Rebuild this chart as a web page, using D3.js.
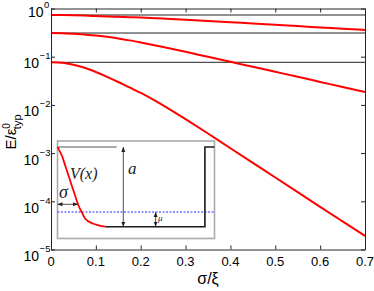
<!DOCTYPE html>
<html><head><meta charset="utf-8">
<script src="https://cdn.jsdelivr.net/npm/d3@7"></script>
<style>body{margin:0;background:#fff} svg{display:block}</style>
</head><body>
<svg id="c" width="374" height="291"></svg>
<script>
// ---- data ----
const sigma  = [0,0.025,0.05,0.075,0.1,0.125,0.15,0.175,0.2,0.25,0.3,0.35,0.4,0.45,0.5,0.55,0.6,0.65,0.7];
const level1 = [0.733,0.730,0.723,0.712,0.699,0.686,0.673,0.660,0.648,0.617,0.586,0.553,0.520,0.488,0.459,0.431,0.405,0.381,0.358];
const level2 = [0.310,0.307,0.2986,0.288,0.2754,0.258,0.2386,0.218,0.1971,0.1589,0.1264,0.0995,0.0784,0.0617,0.0486,0.0383,0.0300,0.0235,0.0185];
const level3 = [0.0765,0.0747,0.0679,0.0589,0.0482,0.0383,0.0299,0.0230,0.0178,0.00982,0.00505,0.00255,0.00126,6.26e-4,3.12e-4,1.55e-4,7.69e-5,3.83e-5,1.91e-5];
const refLevels = [0.733,0.310,0.0765];
const xTicks = [0,0.1,0.2,0.3,0.4,0.5,0.6,0.7];
const xTickLabels = ["0","0.1","0.2","0.3","0.4","0.5","0.6","0.7"];
const yTicks = [1,1e-1,1e-2,1e-3,1e-4,1e-5];
const yTickExp = ["0","\u22121","\u22122","\u22123","\u22124","\u22125"];
// inset (schematic potential)
const insetX = [0,0.008,0.029,0.05,0.071,0.092,0.113,0.135,0.156,0.177,0.22,0.262,0.304];
const insetV = [1,0.971,0.887,0.762,0.636,0.511,0.385,0.26,0.176,0.1,0.043,0.018,0];
const wellX = [0.304,0.939,0.939,1];
const wellV = [0,0,1,1];
const muLevel = 0.184;
const topLineEnd = 0.377;
const aArrowX = 0.419, muArrowX = 0.625, sigmaArrowV = 0.281, sigmaArrowEnd = 0.131;

// ---- layout ----
const svg = d3.select("#c");
const L = 51, R = 365, T = 8.5, B = 249.5;
const x = d3.scaleLinear().domain([0,0.7]).range([L,R]);
const y = d3.scaleLog().domain([1e-5,1]).range([B,T]);
const font = "'Liberation Sans', Arial, Helvetica, sans-serif";
const axisCol = "#262626";

// reference horizontal lines
svg.append("g").selectAll("line").data(refLevels).join("line")
  .attr("x1",x(0)).attr("x2",x(0.7)).attr("y1",d=>y(d)).attr("y2",d=>y(d))
  .attr("stroke","#222").attr("stroke-width",1);

// curves
const line = d3.line().x(d=>x(d[0])).y(d=>y(d[1])).curve(d3.curveMonotoneX);
[level1,level2,level3].forEach(arr=>{
  svg.append("path").attr("d", line(sigma.map((s,i)=>[s,arr[i]])))
    .attr("fill","none").attr("stroke","#ff0000").attr("stroke-width",2);
});

// axes with inward ticks
function styleAxis(g){ g.selectAll("path,line").attr("stroke",axisCol); g.selectAll("text").remove(); }
svg.append("g").attr("transform",`translate(0,${B})`).call(d3.axisBottom(x).tickValues(xTicks).tickSize(-4).tickSizeOuter(0)).call(styleAxis);
svg.append("g").attr("transform",`translate(0,${T})`).call(d3.axisTop(x).tickValues(xTicks).tickSize(-4).tickSizeOuter(0)).call(styleAxis);
svg.append("g").attr("transform",`translate(${L},0)`).call(d3.axisLeft(y).tickValues(yTicks).tickSize(-4).tickSizeOuter(0)).call(styleAxis);
svg.append("g").attr("transform",`translate(${R},0)`).call(d3.axisRight(y).tickValues(yTicks).tickSize(-4).tickSizeOuter(0)).call(styleAxis);

// x tick labels
svg.append("g").selectAll("text").data(xTicks).join("text")
  .attr("x",d=>x(d)).attr("y",266).attr("text-anchor","middle")
  .style("font",`13px ${font}`).attr("fill","#000").text((d,i)=>xTickLabels[i]);

// y tick labels with superscripts (single text each)
const yl = svg.append("g");
yTicks.forEach((v,i)=>{
  const off = i===0 ? 8.5 : 11.5;
  const t = yl.append("text").attr("x", i===0 ? 28 : 23.5).attr("y",y(v)+off)
    .style("font",`14px ${font}`);
  t.append("tspan").text("10");
  t.append("tspan").attr("dx",0.5).attr("dy",-9).style("font-size","9.5px").text(yTickExp[i]);
});

// axis titles
svg.append("text").attr("x",(L+R)/2).attr("y",284).attr("text-anchor","middle")
  .style("font",`16px ${font}`).text("σ/ξ");
const yt = svg.append("text").attr("transform","translate(16,132) rotate(-90)")
  .attr("text-anchor","middle").style("font",`15px ${font}`);
yt.append("tspan").text("E/ε");
yt.append("tspan").attr("dy",-6).style("font-size","10px").text("0");
yt.append("tspan").attr("dx",-6).attr("dy",11).style("font-size","11px").text("typ");

// ---- inset ----
const ix = d3.scaleLinear().domain([0,1]).range([57.5,214.5]);
const iv = d3.scaleLinear().domain([0,1]).range([226.7,147]);
const ins = svg.append("g");
ins.append("rect").attr("x",57.5).attr("y",141).attr("width",157).attr("height",97.5)
  .attr("fill","#fff").attr("stroke","#aaa").attr("stroke-width",1.6);
// grey top line
ins.append("line").attr("x1",ix(0)).attr("x2",ix(topLineEnd)).attr("y1",iv(1)).attr("y2",iv(1))
  .attr("stroke","#8c8c8c").attr("stroke-width",1.3);
// blue dashed mu line
ins.append("line").attr("x1",ix(0)).attr("x2",ix(1)).attr("y1",iv(muLevel)).attr("y2",iv(muLevel))
  .attr("stroke","#1f2fff").attr("stroke-width",1).attr("stroke-dasharray","2,1.5");
// well
const il = d3.line().x(d=>ix(d[0])).y(d=>iv(d[1]));
ins.append("path").attr("d", il(wellX.map((u,i)=>[u,wellV[i]])))
  .attr("fill","none").attr("stroke","#1a1a1a").attr("stroke-width",1.6);
// red potential
ins.append("path").attr("d", d3.line().x(d=>ix(d[0])).y(d=>iv(d[1])).curve(d3.curveMonotoneX)(insetX.map((u,i)=>[u,insetV[i]])))
  .attr("fill","none").attr("stroke","#ff0000").attr("stroke-width",1.8);
// arrows
const defs = svg.append("defs");
defs.append("marker").attr("id","ah").attr("viewBox","0 0 10 10").attr("refX",10).attr("refY",5)
  .attr("markerWidth",5).attr("markerHeight",5).attr("orient","auto-start-reverse").attr("markerUnits","userSpaceOnUse")
  .append("path").attr("d","M0,1 L10,5 L0,9 Z").attr("fill","#222");
function arrow(x1,y1,x2,y2){
  ins.append("line").attr("x1",x1).attr("y1",y1).attr("x2",x2).attr("y2",y2)
    .attr("stroke","#222").attr("stroke-width",0.8)
    .attr("marker-start","url(#ah)").attr("marker-end","url(#ah)");
}
arrow(ix(aArrowX), iv(1), ix(aArrowX), iv(0));
arrow(ix(muArrowX), iv(muLevel), ix(muArrowX), iv(0));
arrow(ix(0), iv(sigmaArrowV), ix(sigmaArrowEnd), iv(sigmaArrowV));
const serif = "'Liberation Serif', 'Times New Roman', serif";
ins.append("text").attr("x",70).attr("y",179.3).style("font",`italic 16px ${serif}`).attr("fill","#222").text("V(x)");
ins.append("text").attr("x",128).attr("y",174.3).style("font",`italic 17px ${serif}`).attr("fill","#222").text("a");
ins.append("text").attr("x",59).attr("y",197.7).style("font",`italic 18px ${serif}`).attr("fill","#222").text("σ");
ins.append("text").attr("x",158).attr("y",221).style("font",`italic 9px ${serif}`).attr("fill","#222").text("μ");
</script>
</body></html>
